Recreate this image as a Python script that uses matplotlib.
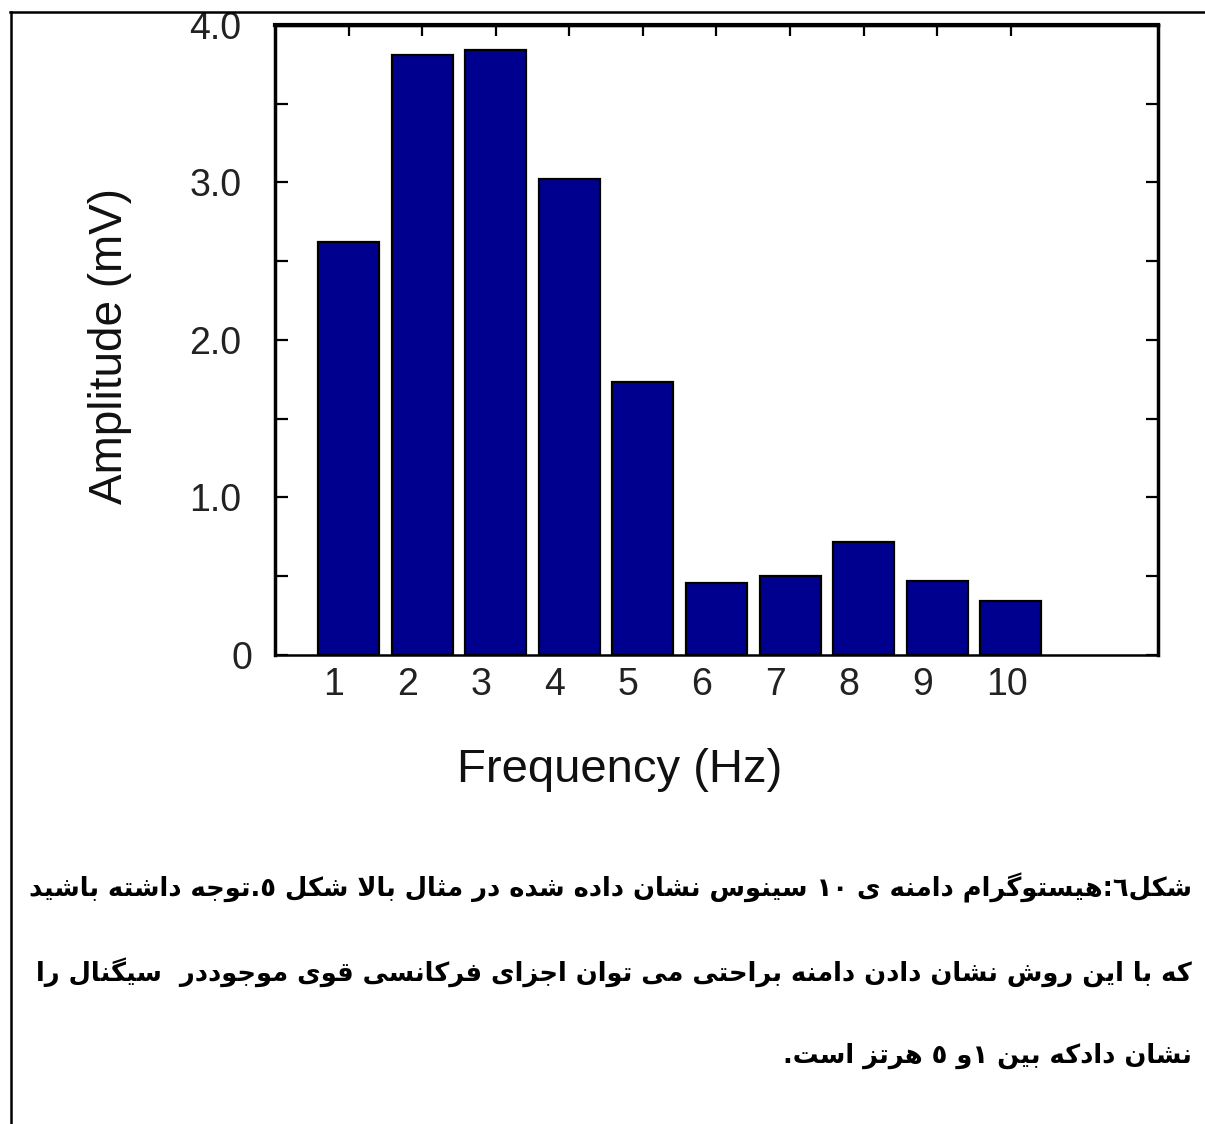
import re
import numpy as np
import matplotlib
matplotlib.use('Agg')
import matplotlib.pyplot as plt
from matplotlib.lines import Line2D
from matplotlib.ticker import MultipleLocator
from matplotlib.transforms import ScaledTranslation

# datos
frecuencias = [1, 2, 3, 4, 5, 6, 7, 8, 9, 10]
amplitudes = [2.62, 3.81, 3.84, 3.02, 1.73, 0.46, 0.50, 0.72, 0.47, 0.34]
valores_y = [0, 1, 2, 3, 4]
etiquetas_y = ['0', '1.0', '2.0', '3.0', '4.0']
etiquetas_x = ['1', '2', '3', '4', '5', '6', '7', '8', '9', '10']

lineas = [
    'شکل٦:هیستوگرام دامنه ی ١٠ سینوس نشان داده شده در مثال بالا شکل ٥.توجه داشته باشید',
    'که با این روش نشان دادن دامنه براحتی می توان اجزای فرکانسی قوی موجوددر  سیگنال را',
    'نشان دادکه بین ١و ٥ هرتز است.',
]

# formas: aislada, final, inicial, media
dobles = {
    'ب': '\uFE8F\uFE90\uFE91\uFE92', 'ت': '\uFE95\uFE96\uFE97\uFE98',
    'ث': '\uFE99\uFE9A\uFE9B\uFE9C', 'ج': '\uFE9D\uFE9E\uFE9F\uFEA0',
    'ح': '\uFEA1\uFEA2\uFEA3\uFEA4', 'س': '\uFEB1\uFEB2\uFEB3\uFEB4',
    'ش': '\uFEB5\uFEB6\uFEB7\uFEB8', 'ف': '\uFED1\uFED2\uFED3\uFED4',
    'ق': '\uFED5\uFED6\uFED7\uFED8', 'ل': '\uFEDD\uFEDE\uFEDF\uFEE0',
    'م': '\uFEE1\uFEE2\uFEE3\uFEE4', 'ن': '\uFEE5\uFEE6\uFEE7\uFEE8',
    'ه': '\uFEE9\uFEEA\uFEEB\uFEEC', '\u06CC': '\uFBFC\uFBFD\uFBFE\uFBFF',
    '\u06A9': '\uFB8E\uFB8F\uFB90\uFB91', 'گ': '\uFB92\uFB93\uFB94\uFB95',
}
derechas = {
    'ا': '\uFE8D\uFE8E', 'د': '\uFEA9\uFEAA', 'ذ': '\uFEAB\uFEAC',
    'ر': '\uFEAD\uFEAE', 'ز': '\uFEAF\uFEB0', 'و': '\uFEED\uFEEE',
}


def une(c):
    return c in dobles or c in derechas


def dar_forma(texto):
    texto = texto.replace('\u064A', '\u06CC').replace('\u0643', '\u06A9')
    salida = ''
    i = 0
    while i < len(texto):
        c = texto[i]
        antes = i > 0 and texto[i-1] in dobles and une(c)
        sig = texto[i+1] if i + 1 < len(texto) else ''
        if c == 'ل' and sig == 'ا':
            salida += '\uFEFC' if antes else '\uFEFB'
            i += 2
            continue
        despues = c in dobles and une(sig)
        if c in dobles:
            f = dobles[c]
            salida += f[3] if (antes and despues) else f[1] if antes else f[2] if despues else f[0]
        elif c in derechas:
            salida += derechas[c][1] if antes else derechas[c][0]
        else:
            salida += c
        i += 1
    # orden visual: de derecha a izquierda, numeros quedan igual
    partes = re.findall(r'[\u0660-\u0669\u06F0-\u06F90-9]+|.', salida)
    return ''.join(reversed(partes))


plt.rcParams['font.family'] = ['Liberation Sans', 'DejaVu Sans']

fig = plt.figure(figsize=(12.05, 11.24), dpi=100)
ax = fig.add_axes([0.2282, 0.4173, 0.7328, 0.5605])

ax.bar(frecuencias, amplitudes, width=0.83, color='#00008f', edgecolor='black', linewidth=1.6)
ax.set_xlim(0, 12)
ax.set_ylim(0, 4.0)

ax.set_yticks(valores_y)
ax.set_yticklabels(etiquetas_y)
ax.yaxis.set_minor_locator(MultipleLocator(0.5))
ax.tick_params(axis='y', which='both', direction='in', length=9, width=1.6,
               right=True, labelsize=27, pad=24, labelcolor='#222222')
# el cero esta algo mas a la derecha
cero = ax.get_yticklabels()[0]
cero.set_transform(cero.get_transform() + ScaledTranslation(0.11, 0, fig.dpi_scale_trans))

ax.set_xticks(frecuencias)
ax.set_xticklabels(etiquetas_x, ha='left')
ax.tick_params(axis='x', length=0, labelsize=27, pad=9, labelcolor='#222222')
for lab in ax.get_xticklabels():
    lab.set_transform(lab.get_transform() + ScaledTranslation(-0.25, 0, fig.dpi_scale_trans))

arriba = ax.secondary_xaxis('top')
arriba.set_xticks(frecuencias)
arriba.tick_params(direction='in', length=8, width=1.6, labeltop=False)
arriba.spines['top'].set_linewidth(3)

for lado in ['left', 'right', 'top']:
    ax.spines[lado].set_linewidth(2.5)
ax.spines['bottom'].set_linewidth(1.8)

fig.text(620/1205, 1 - 770/1124, 'Frequency (Hz)', fontsize=34, ha='center', va='center', color='#111111')
fig.text(110/1205, 1 - 346/1124, 'Amplitude (mV)', fontsize=33, rotation=90,
         ha='center', va='center', color='#111111')

# marco de la celda
fig.add_artist(Line2D([10/1205, 1], [1 - 12/1124, 1 - 12/1124], color='black', lw=1.8))
fig.add_artist(Line2D([11/1205, 11/1205], [0, 1 - 12/1124], color='black', lw=1.8))

# texto persa
textos = []
for k, linea in enumerate(lineas):
    t = fig.text(1192/1205, 1 - (888 + 84*k)/1124, dar_forma(linea), fontsize=20,
                 family='DejaVu Sans', weight='bold', ha='right', va='center')
    textos.append(t)
fig.canvas.draw()
ancho = textos[0].get_window_extent(fig.canvas.get_renderer()).width
for t in textos:
    t.set_fontsize(20 * 1160 / ancho)

fig.savefig('out.png', dpi=100)
